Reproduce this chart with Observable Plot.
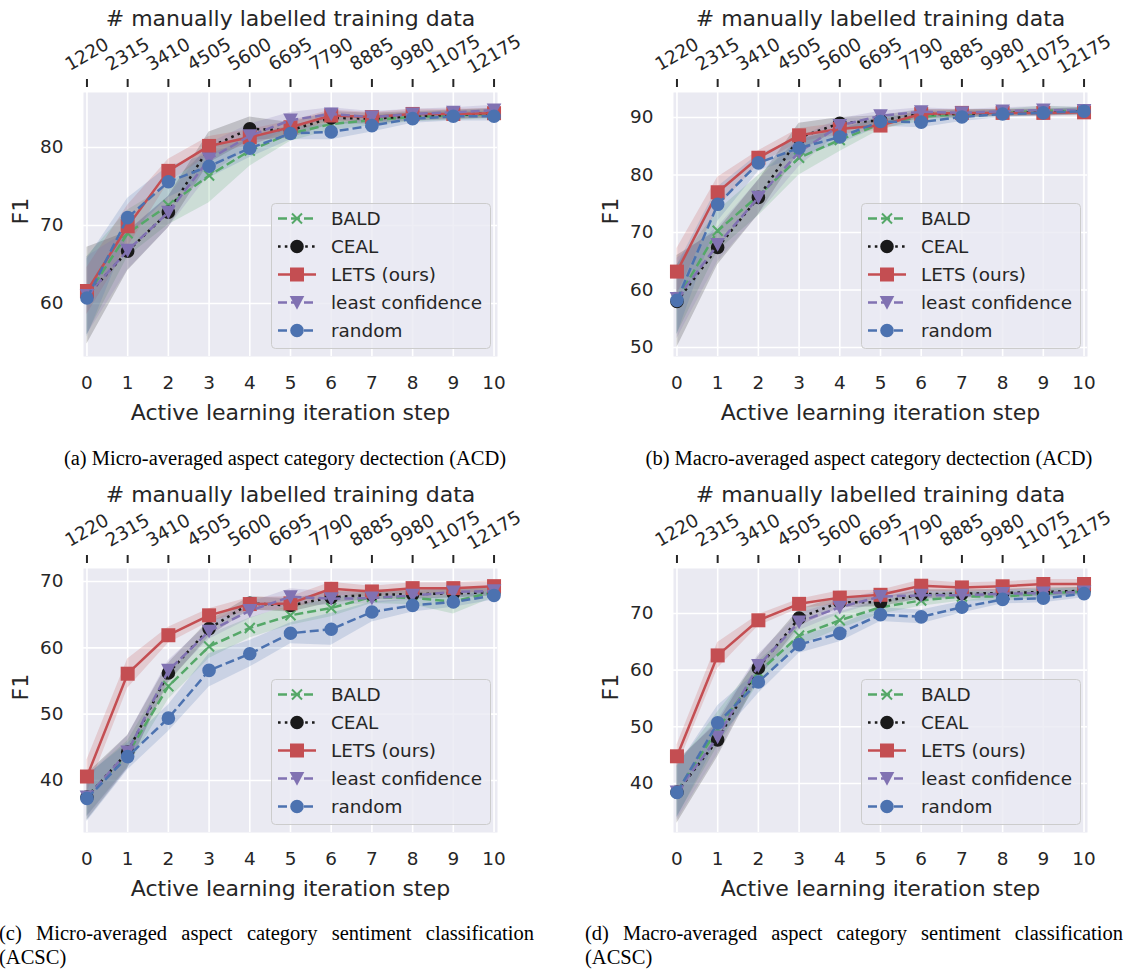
<!DOCTYPE html>
<html><head><meta charset="utf-8">
<script src="https://cdn.jsdelivr.net/npm/d3@7"></script>
<script src="https://cdn.jsdelivr.net/npm/@observablehq/plot@0.6"></script>
<style>
body{margin:0;background:#fff;}
#root{position:relative;width:1126px;height:971px;overflow:hidden;font-family:"DejaVu Sans",sans-serif;}
.panel{position:absolute;width:540px;height:440px;}
.panel svg{overflow:visible;}
.legend{position:absolute;left:271px;top:203px;}
.cap{position:absolute;font-family:"Liberation Serif","Times New Roman",serif;font-size:20.5px;color:#000;line-height:24px;}
.center{text-align:center;white-space:nowrap;}
.just{text-align:justify;text-align-last:left;}
</style></head><body><div id="root"></div>
<script>
// ---------- data ----------
const steps = [0, 1, 2, 3, 4, 5, 6, 7, 8, 9, 10];
const topLabels = ["1220", "2315", "3410", "4505", "5600", "6695", "7790", "8885", "9980", "11075", "12175"];
const methods = ["BALD", "CEAL", "LETS (ours)", "least confidence", "random"];

// (a) micro ACD  — order: BALD, CEAL, LETS, least confidence, random
const acdMicroF1 = [
  [61.0, 69.0, 72.6, 76.4, 79.6, 81.8, 83.0, 83.5, 83.9, 84.1, 84.3],
  [61.0, 66.7, 71.7, 80.0, 82.4, 82.2, 83.8, 83.7, 84.0, 84.2, 84.4],
  [61.6, 69.9, 77.0, 80.2, 81.3, 82.6, 84.1, 83.9, 84.3, 84.3, 84.4],
  [61.0, 66.8, 71.7, 78.5, 81.5, 83.5, 84.3, 83.9, 84.3, 84.5, 84.8],
  [60.7, 71.0, 75.6, 77.6, 79.9, 81.8, 82.0, 82.8, 83.7, 84.0, 84.0]
];
const acdMicroSpread = [
  [5, 3, 2.5, 3.5, 2, 1, 0.8, 0.7, 0.6, 0.6, 0.6],
  [6.2, 2.5, 2, 2, 1.5, 1, 0.8, 0.7, 0.6, 0.6, 0.6],
  [3, 2.7, 1.5, 1.2, 1, 0.8, 0.7, 0.6, 0.6, 0.6, 0.6],
  [5, 2.5, 2, 2, 1.5, 1, 0.8, 0.7, 0.6, 0.6, 0.6],
  [5, 2.5, 2, 1.5, 1.2, 0.8, 1, 0.8, 0.6, 0.6, 0.6]
];
// (b) macro ACD
const acdMacroF1 = [
  [58.3, 70.3, 76.4, 83.0, 86.1, 88.9, 90.1, 90.6, 90.8, 91.2, 91.1],
  [58.0, 67.4, 76.1, 86.5, 89.0, 89.5, 90.6, 90.6, 90.8, 90.9, 91.1],
  [63.2, 77.0, 83.0, 86.9, 88.0, 88.6, 90.6, 90.8, 90.8, 90.8, 90.9],
  [58.5, 67.9, 76.1, 84.0, 88.6, 90.3, 91.0, 90.8, 91.1, 91.3, 91.2],
  [58.2, 74.9, 82.1, 84.7, 86.6, 89.3, 89.2, 90.1, 90.6, 90.8, 91.1]
];
const acdMacroSpread = [
  [6, 3.5, 3.5, 3, 2, 1, 0.8, 0.7, 0.6, 0.8, 0.6],
  [8, 3, 3, 2.5, 1, 0.8, 0.8, 0.7, 0.6, 0.6, 0.6],
  [4, 2.6, 1.2, 1.2, 1, 0.8, 0.7, 0.6, 0.6, 0.6, 0.6],
  [7, 3, 3, 2.5, 1.2, 0.8, 0.7, 0.6, 0.6, 0.6, 0.6],
  [6, 3, 1.5, 1.5, 1.2, 0.8, 1, 0.8, 0.6, 0.6, 0.6]
];
// (c) micro ACSC
const acscMicroF1 = [
  [37.6, 44.0, 54.2, 60.2, 63.0, 64.9, 66.0, 67.7, 67.5, 67.0, 68.4],
  [37.5, 44.3, 56.2, 62.9, 66.7, 66.4, 67.6, 68.0, 68.1, 68.2, 68.4],
  [40.6, 56.1, 61.9, 64.9, 66.6, 66.7, 68.9, 68.5, 69.0, 69.0, 69.3],
  [37.5, 44.3, 56.6, 62.5, 65.6, 67.7, 67.4, 67.5, 67.9, 68.4, 68.6],
  [37.3, 43.6, 49.4, 56.6, 59.1, 62.2, 62.8, 65.4, 66.4, 66.9, 67.9]
];
const acscMicroSpread = [
  [3, 2, 2, 1.8, 1.5, 1.5, 1.3, 1, 1, 1.9, 0.8],
  [3.5, 2.5, 1.5, 1.2, 1, 1, 0.8, 0.7, 0.7, 0.7, 0.6],
  [2.5, 2.2, 1.2, 1, 1, 1, 1, 0.8, 0.8, 0.8, 0.8],
  [3, 2.5, 1.5, 1.2, 1.2, 1.2, 1, 0.8, 0.7, 0.7, 0.6],
  [3.5, 2, 2, 2.5, 2, 1.6, 2.4, 1.5, 1, 0.8, 0.7]
];
// (d) macro ACSC
const acscMacroF1 = [
  [38.6, 49.6, 59.6, 66.1, 68.8, 71.1, 72.3, 73.0, 73.0, 73.5, 73.9],
  [38.5, 47.7, 60.4, 69.2, 72.0, 72.0, 73.4, 73.5, 73.6, 73.8, 74.0],
  [44.8, 62.6, 68.8, 71.7, 72.8, 73.3, 74.9, 74.6, 74.8, 75.2, 75.2],
  [38.5, 48.2, 60.8, 68.5, 71.1, 73.0, 73.2, 73.2, 73.5, 73.6, 73.8],
  [38.4, 50.7, 57.9, 64.5, 66.5, 69.8, 69.4, 71.1, 72.5, 72.7, 73.5]
];
const acscMacroSpread = [
  [4.5, 3, 2, 1.8, 1.5, 1.2, 1, 0.8, 0.8, 0.8, 0.7],
  [5.5, 3, 2, 1.5, 1, 0.8, 0.8, 0.7, 0.7, 0.7, 0.6],
  [2, 2.3, 1, 0.8, 1.2, 0.8, 1, 0.8, 0.8, 0.8, 0.8],
  [5, 3, 2, 1.5, 1.2, 1, 0.8, 0.7, 0.7, 0.7, 0.6],
  [4.5, 3, 2, 1.5, 1.5, 1.2, 1.2, 1, 0.8, 0.8, 0.7]
];

const captions = [
  "(a) Micro-averaged aspect category dectection (ACD)",
  "(b) Macro-averaged aspect category dectection (ACD)",
  "(c) Micro-averaged aspect category sentiment classification (ACSC)",
  "(d) Macro-averaged aspect category sentiment classification (ACSC)"
];

// ---------- style ----------
const colors = ["#55a868", "#1a1a1a", "#c44e52", "#8172b2", "#4c72b0"];
const dashes = ["9,4", "2.6,4.2", null, "9,4", "9,4"];
const crossSym = {draw(c, s) {const r = Math.sqrt(s / Math.PI); c.moveTo(-r, -r); c.lineTo(r, r); c.moveTo(-r, r); c.lineTo(r, -r);}};
const circleSym = {draw(c, s) {const r = Math.sqrt(s / Math.PI); c.moveTo(r, 0); c.arc(0, 0, r, 0, 2 * Math.PI); c.closePath();}};
const squareSym = {draw(c, s) {const r = Math.sqrt(s / Math.PI); c.rect(-r, -r, 2 * r, 2 * r);}};
const triDownSym = {draw(c, s) {const r = Math.sqrt(s / Math.PI); c.moveTo(0, r); c.lineTo(-r, -r * 0.9); c.lineTo(r, -r * 0.9); c.closePath();}};
const symbols = [crossSym, circleSym, squareSym, triDownSym, circleSym];
const symR = [5, 6.8, 7, 7.3, 6.8];
const TXT = "#262626";

const panels = [
  {f1: acdMicroF1, spread: acdMicroSpread, domain: [53.2, 87.05], ticks: [60, 70, 80], left: 0, top: 0},
  {f1: acdMacroF1, spread: acdMacroSpread, domain: [48.43, 94.35], ticks: [50, 60, 70, 80, 90], left: 590, top: 0},
  {f1: acscMicroF1, spread: acscMicroSpread, domain: [32.16, 71.96], ticks: [40, 50, 60, 70], left: 0, top: 476},
  {f1: acscMacroF1, spread: acscMacroSpread, domain: [31.35, 77.94], ticks: [40, 50, 60, 70], left: 590, top: 476}
];

const root = document.getElementById("root");

function legendSvg() {
  const svg = d3.create("svg").attr("width", 221).attr("height", 147);
  svg.append("rect").attr("x", 0.5).attr("y", 0.5).attr("width", 219).attr("height", 145).attr("rx", 4)
    .attr("fill", "#eaeaf2").attr("fill-opacity", 0.8).attr("stroke", "#cccccc").attr("stroke-width", 1);
  methods.forEach((m, i) => {
    const y = 15.5 + i * 28;
    svg.append("line").attr("x1", 7).attr("x2", 45).attr("y1", y).attr("y2", y)
      .attr("stroke", colors[i]).attr("stroke-width", 2.5).attr("stroke-dasharray", dashes[i]);
    const p = svg.append("path").attr("transform", `translate(26,${y})`)
      .attr("d", d3.symbol().type(symbols[i]).size(Math.PI * symR[i] * symR[i])());
    if (i === 0) p.attr("fill", "none").attr("stroke", colors[i]).attr("stroke-width", 2);
    else p.attr("fill", colors[i]);
    svg.append("text").attr("x", 60).attr("y", y).attr("dy", "0.35em").attr("fill", TXT)
      .attr("font-size", 18.4).attr("font-family", "DejaVu Sans").text(m);
  });
  return svg.node();
}

panels.forEach((P, pi) => {
  const rows = [];
  methods.forEach((m, i) => steps.forEach(s => rows.push({
    step: s, method: m, f1: P.f1[i][s], lo: P.f1[i][s] - P.spread[i][s], hi: P.f1[i][s] + P.spread[i][s]
  })));
  const marks = [
    Plot.frame({fill: "#eaeaf2", stroke: null}),
    Plot.ruleX(steps, {x: d => d, stroke: "#ffffff", strokeWidth: 1.6}),
    Plot.ruleY(P.ticks, {y: d => d, stroke: "#ffffff", strokeWidth: 1.6})
  ];
  methods.forEach((m, i) => {
    const d = rows.filter(r => r.method === m);
    marks.push(Plot.areaY(d, {x: "step", y1: "lo", y2: "hi", fill: colors[i], fillOpacity: 0.2, curve: "linear"}));
  });
  methods.forEach((m, i) => {
    const d = rows.filter(r => r.method === m);
    marks.push(Plot.line(d, {x: "step", y: "f1", stroke: colors[i], strokeWidth: 2.5, strokeDasharray: dashes[i], strokeLinecap: "butt", strokeLinejoin: "round"}));
    if (i === 0) marks.push(Plot.dot(d, {x: "step", y: "f1", symbol: symbols[i], r: symR[i], fill: "none", stroke: colors[i], strokeWidth: 2}));
    else marks.push(Plot.dot(d, {x: "step", y: "f1", symbol: symbols[i], r: symR[i], fill: colors[i], stroke: "none"}));
  });
  // axes as text / tick marks
  marks.push(
    Plot.axisX(steps, {anchor: "top", tickSize: 8, dy: -6, tickFormat: () => "", stroke: "#262626", strokeWidth: 2, label: null}),
    Plot.text(steps, {x: d => d, text: d => topLabels[d], frameAnchor: "top", dy: -38, rotate: -30, textAnchor: "middle", lineAnchor: "middle", fontSize: 18.4, fill: TXT}),
    Plot.text(["# manually labelled training data"], {text: d => d, frameAnchor: "top", dy: -74, lineAnchor: "middle", fontSize: 22, fill: TXT}),
    Plot.text(steps, {x: d => d, text: d => String(d), frameAnchor: "bottom", dy: 27, lineAnchor: "middle", fontSize: 18.4, fill: TXT}),
    Plot.text(["Active learning iteration step"], {text: d => d, frameAnchor: "bottom", dy: 56, lineAnchor: "middle", fontSize: 22, fill: TXT}),
    Plot.text(P.ticks, {y: d => d, text: d => String(d), frameAnchor: "left", dx: -20, textAnchor: "end", lineAnchor: "middle", fontSize: 18.4, fill: TXT}),
    Plot.text(["F1"], {text: d => d, frameAnchor: "left", dx: -63, rotate: -90, lineAnchor: "middle", fontSize: 22, fill: TXT})
  );
  const chart = Plot.plot({
    width: 540, height: 440,
    marginLeft: 83, marginRight: 43, marginTop: 92, marginBottom: 84,
    x: {domain: [-0.085, 10.085], axis: null},
    y: {domain: P.domain, axis: null},
    style: {fontFamily: "DejaVu Sans", background: "transparent", overflow: "visible"},
    marks
  });
  const div = document.createElement("div");
  div.className = "panel";
  div.style.left = P.left + "px";
  div.style.top = P.top + "px";
  div.appendChild(chart);
  const lg = document.createElement("div");
  lg.className = "legend";
  lg.appendChild(legendSvg());
  div.appendChild(lg);
  root.appendChild(div);
});

// captions
function cap(text, cls, left, top, width) {
  const d = document.createElement("div");
  d.className = "cap " + cls;
  d.style.left = left + "px"; d.style.top = top + "px"; d.style.width = width + "px";
  d.textContent = text;
  root.appendChild(d);
}
cap(captions[0], "center", 0, 446, 570);
cap(captions[1], "center", 584, 446, 570);
cap(captions[2], "just", -1, 921, 535);
cap(captions[3], "just", 585, 921, 538);
</script></body></html>
